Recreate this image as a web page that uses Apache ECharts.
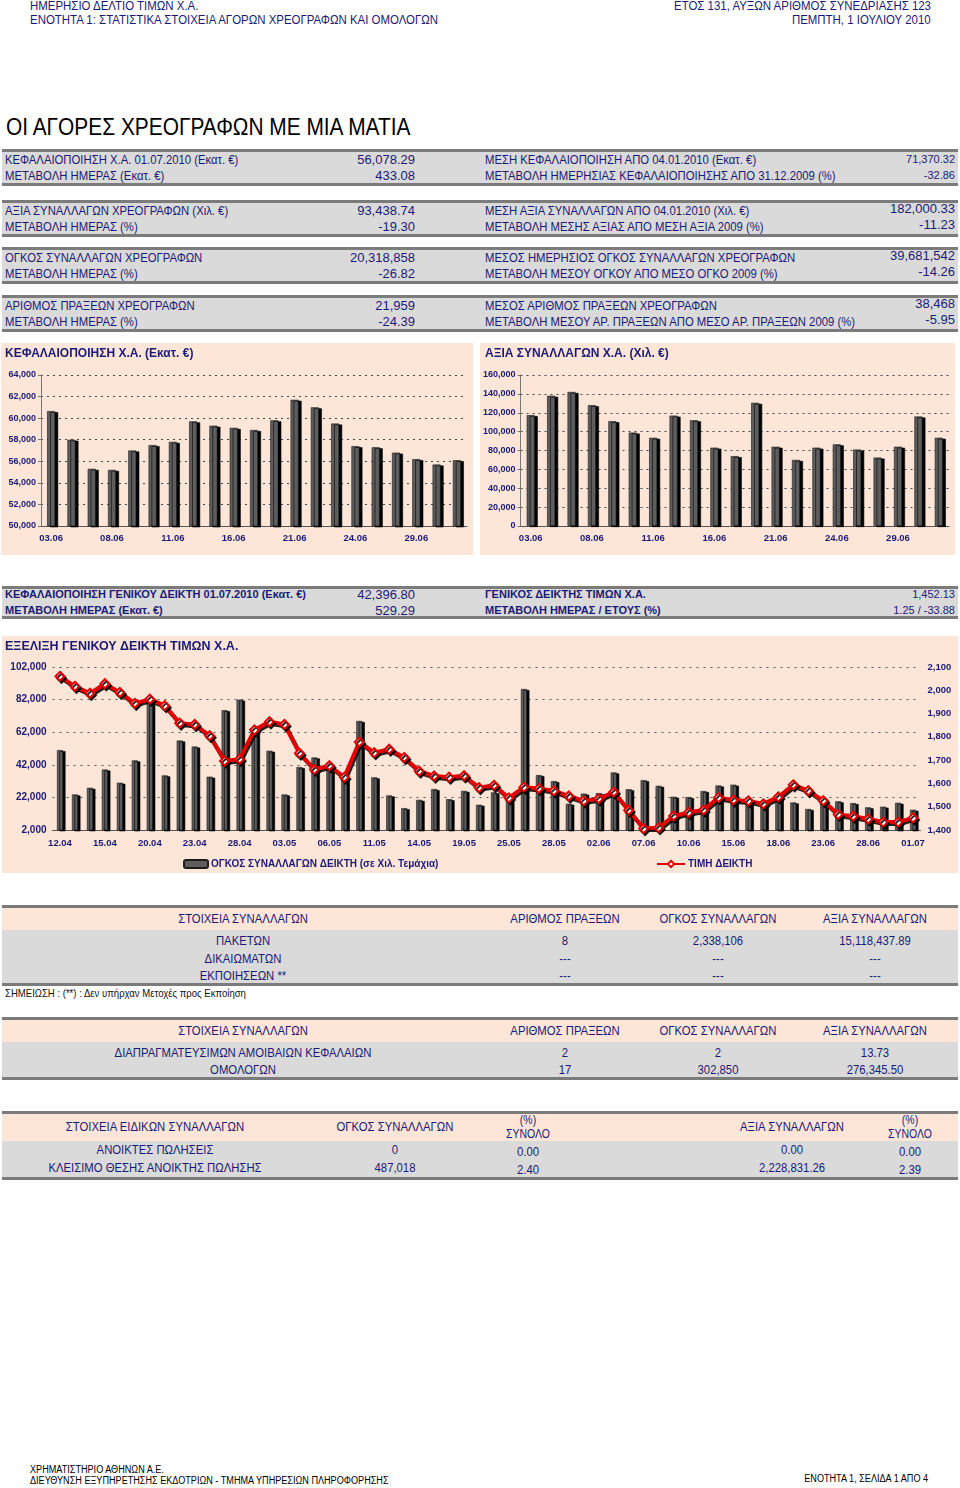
<!DOCTYPE html>
<html><head><meta charset="utf-8">
<script src="https://cdn.jsdelivr.net/npm/echarts@6.0.0/dist/echarts.min.js"></script>
<style>
*{box-sizing:border-box}
body{margin:0;background:#fff;width:960px;height:1488px;position:relative;overflow:hidden;font-family:"Liberation Sans",Arial,sans-serif;color:#1a1a76}
.t{position:absolute;white-space:nowrap}
.band{position:absolute;left:2px;width:956px;background:#dadada;border-top:3px solid #7b7b7b;border-bottom:3px solid #7b7b7b}
.pinkhead{position:absolute;left:0;width:100%;top:0;background:#fde6d8}
.chart{position:absolute}
</style></head><body>
<div id="c1" class="chart" style="left:1px;top:343px;width:472px;height:212px"></div>
<div id="c2" class="chart" style="left:480px;top:343px;width:475px;height:212px"></div>
<div id="c3" class="chart" style="left:2px;top:636px;width:956px;height:237px"></div>
<script>
// ---------- DATA ----------
const smallDates = ['03.06','04.06','07.06','08.06','09.06','10.06','11.06','14.06','15.06','16.06','17.06','18.06','21.06','22.06','23.06','24.06','25.06','28.06','29.06','30.06','01.07'];
const capValues = [60650,58000,55300,55200,57000,57500,57800,59700,59300,59100,58900,59800,61700,61000,59500,57400,57300,56800,56200,55700,56100];
const tradeValues = [117500,138000,142000,128000,111000,99000,93500,117000,112000,83000,74000,130500,84000,70000,83000,86500,81000,72500,84000,116000,93500];

const indexDates = ['12.04','13.04','14.04','15.04','16.04','19.04','20.04','21.04','22.04','23.04','26.04','27.04','28.04','29.04','30.04',
 '03.05','04.05','05.05','06.05','07.05','10.05','11.05','12.05','13.05','14.05','17.05','18.05','19.05','20.05','21.05','25.05','26.05','27.05','28.05','31.05',
 '01.06','02.06','03.06','04.06','07.06','08.06','09.06','10.06','11.06','14.06','15.06','16.06','17.06','18.06','21.06','22.06','23.06','24.06','25.06','28.06','29.06','30.06','01.07'];
const indexVolume = [51000,23800,27900,39100,31000,44700,80500,35500,56900,53200,34700,75500,82000,62000,50600,
 23800,40600,46500,39500,34200,68900,34300,23200,15400,20500,27100,20900,26000,17500,25100,21000,88500,35700,32000,18100,
 24300,24600,37300,27000,32600,29100,22400,22200,25900,29300,29800,20200,20000,22000,18900,14900,20800,19600,18500,15900,16300,18700,14400];
const indexPrice = [2060,2017,1987,2028,1991,1944,1962,1934,1859,1853,1805,1696,1704,1830,1865,
 1853,1730,1660,1676,1627,1778,1732,1747,1711,1653,1632,1627,1633,1582,1592,1538,1584,1578,1568,1546,
 1525,1534,1563,1485,1406,1410,1460,1475,1486,1539,1529,1525,1512,1542,1594,1569,1526,1467,1459,1447,1434,1434,1452];

const summaryLabelsLeft = ['ΚΕΦΑΛΑΙΟΠΟΙΗΣΗ Χ.Α. 01.07.2010 (Εκατ. €)','ΜΕΤΑΒΟΛΗ ΗΜΕΡΑΣ (Εκατ. €)','ΑΞΙΑ ΣΥΝΑΛΛΑΓΩΝ ΧΡΕΟΓΡΑΦΩΝ (Χιλ. €)','ΜΕΤΑΒΟΛΗ ΗΜΕΡΑΣ (%)','ΟΓΚΟΣ ΣΥΝΑΛΛΑΓΩΝ ΧΡΕΟΓΡΑΦΩΝ','ΜΕΤΑΒΟΛΗ ΗΜΕΡΑΣ (%)','ΑΡΙΘΜΟΣ ΠΡΑΞΕΩΝ ΧΡΕΟΓΡΑΦΩΝ','ΜΕΤΑΒΟΛΗ ΗΜΕΡΑΣ (%)'];
const summaryValuesLeft = ['56,078.29','433.08','93,438.74','-19.30','20,318,858','-26.82','21,959','-24.39'];
const summaryLabelsRight = ['ΜΕΣΗ ΚΕΦΑΛΑΙΟΠΟΙΗΣΗ ΑΠΟ 04.01.2010 (Εκατ. €)','ΜΕΤΑΒΟΛΗ ΗΜΕΡΗΣΙΑΣ ΚΕΦΑΛΑΙΟΠΟΙΗΣΗΣ ΑΠΟ 31.12.2009 (%)','ΜΕΣΗ ΑΞΙΑ ΣΥΝΑΛΛΑΓΩΝ ΑΠΟ 04.01.2010 (Χιλ. €)','ΜΕΤΑΒΟΛΗ ΜΕΣΗΣ ΑΞΙΑΣ ΑΠΟ ΜΕΣΗ ΑΞΙΑ 2009 (%)','ΜΕΣΟΣ ΗΜΕΡΗΣΙΟΣ ΟΓΚΟΣ ΣΥΝΑΛΛΑΓΩΝ ΧΡΕΟΓΡΑΦΩΝ','ΜΕΤΑΒΟΛΗ ΜΕΣΟΥ ΟΓΚΟΥ ΑΠΟ ΜΕΣΟ ΟΓΚΟ 2009 (%)','ΜΕΣΟΣ ΑΡΙΘΜΟΣ ΠΡΑΞΕΩΝ ΧΡΕΟΓΡΑΦΩΝ','ΜΕΤΑΒΟΛΗ ΜΕΣΟΥ ΑΡ. ΠΡΑΞΕΩΝ ΑΠΟ ΜΕΣΟ ΑΡ. ΠΡΑΞΕΩΝ 2009 (%)'];
const summaryValuesRight = ['71,370.32','-32.86','182,000.33','-11.23','39,681,542','-14.26','38,468','-5.95'];

const indexLabelsLeft = ['ΚΕΦΑΛΑΙΟΠΟΙΗΣΗ ΓΕΝΙΚΟΥ ΔΕΙΚΤΗ 01.07.2010 (Εκατ. €)','ΜΕΤΑΒΟΛΗ ΗΜΕΡΑΣ (Εκατ. €)'];
const indexValuesLeft = ['42,396.80','529.29'];
const indexLabelsRight = ['ΓΕΝΙΚΟΣ ΔΕΙΚΤΗΣ ΤΙΜΩΝ Χ.Α.','ΜΕΤΑΒΟΛΗ ΗΜΕΡΑΣ / ΕΤΟΥΣ (%)'];
const indexValuesRight = ['1,452.13','1.25 / -33.88'];

const table1Head = ['ΣΤΟΙΧΕΙΑ ΣΥΝΑΛΛΑΓΩΝ','ΑΡΙΘΜΟΣ ΠΡΑΞΕΩΝ','ΟΓΚΟΣ ΣΥΝΑΛΛΑΓΩΝ','ΑΞΙΑ ΣΥΝΑΛΛΑΓΩΝ'];
const table1Rows = [['ΠΑΚΕΤΩΝ','8','2,338,106','15,118,437.89'],['ΔΙΚΑΙΩΜΑΤΩΝ','---','---','---'],['ΕΚΠΟΙΗΣΕΩΝ  **','---','---','---']];
const table2Head = ['ΣΤΟΙΧΕΙΑ ΣΥΝΑΛΛΑΓΩΝ','ΑΡΙΘΜΟΣ ΠΡΑΞΕΩΝ','ΟΓΚΟΣ ΣΥΝΑΛΛΑΓΩΝ','ΑΞΙΑ ΣΥΝΑΛΛΑΓΩΝ'];
const table2Rows = [['ΔΙΑΠΡΑΓΜΑΤΕΥΣΙΜΩΝ ΑΜΟΙΒΑΙΩΝ ΚΕΦΑΛΑΙΩΝ','2','2','13.73'],['ΟΜΟΛΟΓΩΝ','17','302,850','276,345.50']];
const table3Head = ['ΣΤΟΙΧΕΙΑ ΕΙΔΙΚΩΝ ΣΥΝΑΛΛΑΓΩΝ','ΟΓΚΟΣ ΣΥΝΑΛΛΑΓΩΝ','(%)|ΣΥΝΟΛΟ','ΑΞΙΑ ΣΥΝΑΛΛΑΓΩΝ','(%)|ΣΥΝΟΛΟ'];
const table3Rows = [['ΑΝΟΙΚΤΕΣ ΠΩΛΗΣΕΙΣ','0','0.00','0.00','0.00'],['ΚΛΕΙΣΙΜΟ ΘΕΣΗΣ ΑΝΟΙΚΤΗΣ ΠΩΛΗΣΗΣ','487,018','2.40','2,228,831.26','2.39']];

// ---------- LAYOUT HELPERS ----------
const NAVY = '#1a1a76';
const WIDE = '"Liberation Sans", Arial, sans-serif';
function T(s, x, y, o){
  o = o || {};
  const d = document.createElement('div'); d.className = 't'; d.textContent = s;
  const fs = o.fs || 12; const lh = fs + 4;
  d.style.fontSize = fs + 'px'; d.style.lineHeight = lh + 'px'; d.style.top = (y - lh/2) + 'px';
  if (o.w) d.style.fontWeight = o.w;
  if (o.c) d.style.color = o.c;
  let origin = 'left center';
  if (o.a === 'r') { d.style.right = (960 - x) + 'px'; origin = 'right center'; }
  else if (o.a === 'c') { d.style.left = (x - 250) + 'px'; d.style.width = '500px'; d.style.textAlign = 'center'; origin = 'center center'; }
  else d.style.left = x + 'px';
  if (o.sx) { d.style.transform = 'scaleX(' + o.sx + ')'; d.style.transformOrigin = origin; }
  document.body.appendChild(d);
}
function band(top, h, headH){
  const d = document.createElement('div'); d.className = 'band';
  d.style.top = top + 'px'; d.style.height = h + 'px';
  if (headH) { const p = document.createElement('div'); p.className = 'pinkhead'; p.style.height = headH + 'px'; d.appendChild(p); }
  document.body.insertBefore(d, document.body.firstChild);
}
const N = 0.87; // narrow-font emulation

// header
T('ΗΜΕΡΗΣΙΟ ΔΕΛΤΙΟ ΤΙΜΩΝ Χ.Α.', 30, 5, {fs:13, sx:0.88});
T('ΕΝΟΤΗΤΑ 1: ΣΤΑΤΙΣΤΙΚΑ ΣΤΟΙΧΕΙΑ ΑΓΟΡΩΝ ΧΡΕΟΓΡΑΦΩΝ ΚΑΙ ΟΜΟΛΟΓΩΝ', 30, 19, {fs:13, sx:0.88});
T('ΕΤΟΣ 131,  ΑΥΞΩΝ ΑΡΙΘΜΟΣ ΣΥΝΕΔΡΙΑΣΗΣ 123', 931, 5, {fs:13, a:'r', sx:0.88});
T('ΠΕΜΠΤΗ, 1 ΙΟΥΛΙΟΥ 2010', 931, 19, {fs:13, a:'r', sx:0.88});
T('ΟΙ ΑΓΟΡΕΣ ΧΡΕΟΓΡΑΦΩΝ ΜΕ ΜΙΑ ΜΑΤΙΑ', 6, 127, {fs:24, c:'#000', sx:N});

// summary boxes
[149, 200, 247, 295].forEach(t => band(t, 37));
const rowY = [159,175,210,226,257,273,305,321];
const rightValSize = [11,11,13,13,13,13,13,13];
summaryLabelsLeft.forEach((s,i) => {
  T(s, 5, rowY[i], {fs:13, sx:N});
  T(summaryValuesLeft[i], 415, rowY[i], {fs:13, a:'r'});
  T(summaryLabelsRight[i], 485, rowY[i], {fs:13, sx:N});
  T(summaryValuesRight[i], 955, rowY[i] - (rightValSize[i] > 11 ? 2 : 0), {fs:rightValSize[i], a:'r'});
});

// index box
band(586, 33);
indexLabelsLeft.forEach((s,i) => {
  const y = [594,610][i];
  T(s, 5, y, {fs:11, w:'bold'});
  T(indexValuesLeft[i], 415, y, {fs:13, a:'r'});
  T(indexLabelsRight[i], 485, y, {fs:11, w:'bold'});
  T(indexValuesRight[i], 955, y, {fs:11, a:'r'});
});

// tables
band(905, 81, 22);
const c1 = [243,565,718,875];
table1Head.forEach((s,i) => T(s, c1[i], 918, {fs:13, a:'c', sx:N}));
table1Rows.forEach((r,j) => r.forEach((s,i) => T(s, c1[i], [940,958,975][j], {fs:13, a:'c', sx:N})));
T('ΣΗΜΕΙΩΣΗ : (**) : Δεν υπήρχαν Μετοχές προς Εκποίηση', 5, 993, {fs:10.5, c:'#111', sx:0.91});

band(1017, 63, 22);
table2Head.forEach((s,i) => T(s, c1[i], 1030, {fs:13, a:'c', sx:N}));
table2Rows.forEach((r,j) => r.forEach((s,i) => T(s, c1[i], [1052,1069][j], {fs:13, a:'c', sx:N})));

band(1111, 69, 27);
const c3 = [155,395,528,792,910];
table3Head.forEach((s,i) => {
  const p = s.split('|');
  if (p.length > 1) { T(p[0], c3[i], 1120, {fs:12, a:'c', sx:N}); T(p[1], c3[i], 1134, {fs:12, a:'c', sx:N}); }
  else T(s, c3[i], 1126, {fs:13, a:'c', sx:N});
});
table3Rows.forEach((r,j) => r.forEach((s,i) => T(s, c3[i], [1149,1167][j] + ((i===2||i===4)?2:0), {fs:13, a:'c', sx:N})));

// footer
T('ΧΡΗΜΑΤΙΣΤΗΡΙΟ ΑΘΗΝΩΝ Α.Ε.', 30, 1470, {fs:10, c:'#000', sx:0.91});
T('ΔΙΕΥΘΥΝΣΗ ΕΞΥΠΗΡΕΤΗΣΗΣ ΕΚΔΟΤΡΙΩΝ - ΤΜΗΜΑ ΥΠΗΡΕΣΙΩΝ ΠΛΗΡΟΦΟΡΗΣΗΣ', 30, 1481, {fs:10, c:'#000', sx:0.91});
T('ΕΝΟΤΗΤΑ 1, ΣΕΛΙΔΑ 1 ΑΠΟ 4', 928, 1479, {fs:10, c:'#000', a:'r', sx:0.91});

// ---------- CHARTS ----------
const PINK = '#fde6d8';
const fmt = v => v.toLocaleString('en-US');
const axisLbl = (fs) => ({color:NAVY, fontSize:fs, fontWeight:'bold', fontFamily:WIDE});
const barStyle = {color:'#5e5e5e', borderColor:'#1a1a1a', borderWidth:0.6, shadowColor:'#000', shadowOffsetX:3, shadowOffsetY:1, shadowBlur:0};

function smallChart(el, title, data, min, max, interval, left, tleft){
  const ch = echarts.init(document.getElementById(el), null, {renderer:'canvas'});
  ch.setOption({
    animation:false, backgroundColor:PINK,
    title:{text:title, left:tleft, top:5, padding:0, textStyle:{fontSize:12, fontWeight:'bold', color:NAVY, fontFamily:WIDE}},
    grid:{left:left, right:6, top:32, bottom:29},
    xAxis:{type:'category', data:smallDates,
      axisLine:{lineStyle:{color:'#555', width:1}},
      axisTick:{interval:0, length:4, lineStyle:{color:'#555'}},
      axisLabel:Object.assign({interval:2, margin:7}, axisLbl(9.5))},
    yAxis:{type:'value', min:min, max:max, interval:interval,
      axisLine:{show:true, lineStyle:{color:'#777'}},
      axisTick:{show:true, length:3, lineStyle:{color:'#777'}},
      splitLine:{lineStyle:{type:[2,4], color:'#444', width:1}},
      axisLabel:Object.assign({formatter:fmt, margin:5}, axisLbl(9))},
    series:[{type:'bar', data:data, barWidth:8, itemStyle:barStyle}]
  });
}
smallChart('c1', 'ΚΕΦΑΛΑΙΟΠΟΙΗΣΗ Χ.Α. (Εκατ. €)', capValues, 50000, 64000, 2000, 40, 4);
smallChart('c2', 'ΑΞΙΑ ΣΥΝΑΛΛΑΓΩΝ Χ.Α. (Χιλ. €)', tradeValues, 0, 160000, 20000, 37, 5);

const big = echarts.init(document.getElementById('c3'));
const VOLNAME = 'ΟΓΚΟΣ ΣΥΝΑΛΛΑΓΩΝ ΔΕΙΚΤΗ (σε Χιλ. Τεμάχια)';
const PRICENAME = 'ΤΙΜΗ ΔΕΙΚΤΗ';
big.setOption({
  animation:false, backgroundColor:PINK,
  title:{text:'ΕΞΕΛΙΞΗ ΓΕΝΙΚΟΥ ΔΕΙΚΤΗ ΤΙΜΩΝ Χ.Α.', left:3, top:4, padding:0, textStyle:{fontSize:12.5, fontWeight:'bold', color:NAVY, fontFamily:WIDE}},
  grid:{left:50.5, right:37.5, top:31, bottom:43},
  legend:[
    {data:[VOLNAME], left:176, top:218, itemWidth:24, itemHeight:8, itemGap:4, textStyle:{color:NAVY, fontSize:10, fontWeight:'bold', fontFamily:WIDE, padding:[0,0,0,-2]}},
    {data:[PRICENAME], left:649, top:218, itemWidth:28, itemHeight:8, textStyle:{color:NAVY, fontSize:10, fontWeight:'bold', fontFamily:WIDE, padding:[0,0,0,-2]}}
  ],
  xAxis:{type:'category', data:indexDates,
    axisLine:{lineStyle:{color:'#555'}},
    axisTick:{interval:0, length:4, lineStyle:{color:'#555'}},
    axisLabel:Object.assign({interval:2, margin:8}, axisLbl(9.5))},
  yAxis:[
    {type:'value', min:2000, max:102000, interval:20000,
     axisLine:{show:false}, axisTick:{show:false},
     splitLine:{lineStyle:{type:[2,5], color:'#555'}},
     axisLabel:Object.assign({formatter:fmt, margin:6}, axisLbl(10))},
    {type:'value', min:1400, max:2100, interval:100, position:'right',
     axisLine:{show:false}, axisTick:{show:false}, splitLine:{show:false},
     axisLabel:Object.assign({formatter:fmt, margin:7}, axisLbl(9.5))}
  ],
  series:[
    {name:VOLNAME, type:'bar', data:indexVolume, barWidth:6, yAxisIndex:0,
     itemStyle:Object.assign({}, barStyle, {shadowOffsetX:2.5})},
    {name:PRICENAME, type:'line', data:indexPrice, yAxisIndex:1, symbol:'diamond', symbolSize:9,
     lineStyle:{color:'#e30000', width:4, shadowColor:'rgba(0,0,0,0.85)', shadowOffsetX:1.5, shadowOffsetY:2, shadowBlur:0},
     itemStyle:{color:'#ffffff', borderColor:'#e30000', borderWidth:2, shadowColor:'rgba(0,0,0,0.85)', shadowOffsetX:1.5, shadowOffsetY:2, shadowBlur:0}}
  ]
});
</script>
</body></html>
